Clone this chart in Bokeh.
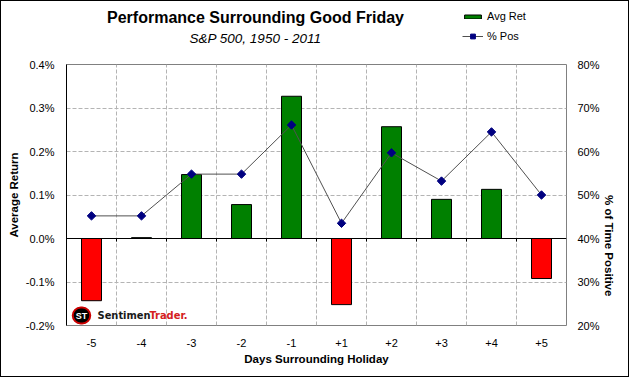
import math
from bokeh.plotting import figure
from bokeh.layouts import column
from bokeh.models import (Range1d, LinearAxis, FixedTicker, PrintfTickFormatter,
                          ColumnDataSource, Span, Label, Legend, LegendItem)
from bokeh.embed import file_html
from bokeh.resources import INLINE

# ---- data ----
days = ["-5", "-4", "-3", "-2", "-1", "+1", "+2", "+3", "+4", "+5"]
avg_ret = [-0.143, 0.002, 0.147, 0.078, 0.327, -0.152, 0.257, 0.090, 0.113, -0.092]  # %
pct_pos = [45.2, 45.2, 54.8, 54.8, 66.1, 43.5, 59.7, 53.2, 64.5, 50.0]              # %
ret_ticks = [-0.2, -0.1, 0.0, 0.1, 0.2, 0.3, 0.4]
pos_ticks = [20, 30, 40, 50, 60, 70, 80]
title_text = "Performance Surrounding Good Friday"
subtitle_text = "S&P 500, 1950 - 2011"
FONT = "Liberation Sans"
GREEN, RED, NAVY, LINE = "#008000", "#FF0000", "#000080", "#505050"

x = list(range(len(days)))
colors = [GREEN if v >= 0 else RED for v in avg_ret]
src = ColumnDataSource(dict(x=x, day=days, ret=avg_ret, pos=pct_pos, color=colors))

# ================= main chart =================
p = figure(width=627, height=319,
           x_range=Range1d(-0.5, len(days) - 0.5),
           y_range=Range1d(ret_ticks[0], ret_ticks[-1]),
           output_backend="svg", toolbar_location=None,
           min_border_left=65, min_border_right=62, min_border_top=7, min_border_bottom=51,
           background_fill_color="white", border_fill_color="white",
           outline_line_color="#808080")
p.extra_y_ranges = {"pos": Range1d(pos_ticks[0], pos_ticks[-1])}

def style_axis(ax, label, standoff, label_standoff):
    ax.axis_label = label
    ax.major_tick_line_color = None
    ax.minor_tick_line_color = None
    ax.major_tick_out = 0
    ax.major_tick_in = 0
    ax.minor_tick_out = 0
    ax.minor_tick_in = 0
    ax.major_label_standoff = standoff
    ax.axis_label_standoff = label_standoff
    ax.major_label_text_font = FONT
    ax.major_label_text_font_size = "11px"
    ax.major_label_text_color = "black"
    ax.axis_label_text_font = FONT
    ax.axis_label_text_font_size = "11.5px"
    ax.axis_label_text_font_style = "bold"
    ax.axis_label_text_color = "black"

# left axis
ya = p.yaxis[0]
ya.ticker = FixedTicker(ticks=ret_ticks)
ya.formatter = PrintfTickFormatter(format="%.1f%%")
style_axis(ya, "Average Return", 12, 3)
ya.axis_line_color = "black"

# right axis
ra = LinearAxis(y_range_name="pos", ticker=FixedTicker(ticks=pos_ticks),
                formatter=PrintfTickFormatter(format="%d%%"))
style_axis(ra, "% of Time Positive", 11, 6)
ra.axis_line_color = None
ra.axis_label_orientation = -math.pi / 2
p.add_layout(ra, "right")

# bottom axis
xa = p.xaxis[0]
xa.ticker = FixedTicker(ticks=x)
xa.major_label_overrides = {i: d for i, d in zip(x, days)}
style_axis(xa, "Days Surrounding Holiday", 13, 3)
xa.axis_line_color = None

# grids (vertical lines between categories)
bounds = [i + 0.5 for i in x[:-1]]
p.xgrid.ticker = FixedTicker(ticks=bounds)
p.ygrid.ticker = FixedTicker(ticks=ret_ticks)
for g in (p.xgrid[0], p.ygrid[0]):
    g.grid_line_color = "#b4b4b4"
    g.grid_line_dash = "4 2"
    g.grid_line_width = 1

# bars
bars = p.vbar(x="x", top="ret", bottom=0, width=0.4, fill_color="color",
              line_color="black", line_width=1, source=src)

# zero line and its small ticks
p.add_layout(Span(location=0, dimension="width", line_color="black", line_width=1))
p.segment(x0=bounds, y0=[0] * len(bounds), x1=bounds, y1=[-0.007] * len(bounds),
          line_color="black", line_width=1)

# % positive line
p.line("x", "pos", y_range_name="pos", line_color=LINE, line_width=1, source=src)
p.scatter("x", "pos", y_range_name="pos", marker="square", angle=math.pi / 4, size=6,
          fill_color=NAVY, line_color=NAVY, source=src)

# watermark logo (screen units relative to frame bottom-left)
p.add_layout(Label(x=15, y=10, x_units="screen", y_units="screen", text="ST",
                   text_align="center", text_baseline="middle", text_font=FONT,
                   text_font_size="9px", text_font_style="bold", text_color="white",
                   background_fill_color="black", border_line_color="#cc0000",
                   border_line_width=2, border_radius=9, padding=3))
p.add_layout(Label(x=31, y=10, x_units="screen", y_units="screen", text="Sentimen",
                   text_align="left", text_baseline="middle", text_font="DejaVu Sans Condensed",
                   text_font_size="11px", text_font_style="bold", text_color="#1a1a1a"))
p.add_layout(Label(x=83, y=10, x_units="screen", y_units="screen", text="Trader.",
                   text_align="left", text_baseline="middle", text_font="DejaVu Sans Condensed",
                   text_font_size="11px", text_font_style="bold", text_color="#d42020"))

# ================= header (titles + legend) =================
# In the column, the header's frame is aligned with the main frame (image x 66..566),
# so the header ranges are expressed in picture pixels.
h = figure(width=627, height=56, x_range=Range1d(66, 566), y_range=Range1d(57, 1),
           x_axis_location=None, y_axis_location=None,
           output_backend="svg", toolbar_location=None,
           min_border_left=0, min_border_right=0, min_border_top=0, min_border_bottom=0,
           background_fill_color="white", border_fill_color="white", outline_line_color=None)
h.grid.visible = False
h.extra_y_ranges = {"hide": Range1d(1000, 1001)}
# legend proxies drawn from the same data, mapped outside the header's visible range
hb = h.vbar(x="x", top="ret", bottom=0, width=0.4, fill_color=GREEN, line_color="black",
            y_range_name="hide", source=src)
hl = h.line("x", "pos", y_range_name="hide", line_color=LINE, line_width=1, source=src)
hm = h.scatter("x", "pos", y_range_name="hide", marker="square", angle=math.pi / 4, size=6,
               fill_color=NAVY, line_color=NAVY, source=src)

common = dict(border_line_color=None, background_fill_alpha=0, padding=0, margin=0,
              label_text_font=FONT, label_text_font_size="11px", label_standoff=4,
              glyph_width=21, spacing=0, label_text_color="black")
leg1 = Legend(items=[LegendItem(label="Avg Ret", renderers=[hb])],
              location=(396, 35), glyph_height=5, **common)
leg2 = Legend(items=[LegendItem(label="% Pos", renderers=[hl, hm])],
              location=(396, 15), glyph_height=12, **common)
h.add_layout(leg1)
h.add_layout(leg2)

h.add_layout(Label(x=255, y=17, text=title_text,
                   text_align="center", text_baseline="middle", text_font=FONT,
                   text_font_size="16px", text_font_style="bold", text_color="black"))
h.add_layout(Label(x=255, y=38, text=subtitle_text,
                   text_align="center", text_baseline="middle", text_font=FONT,
                   text_font_size="13.5px", text_font_style="italic", text_color="black"))

lay = column(h, p, spacing=0)
lay.styles = {"border": "1px solid black"}

open("out.html", "w").write(file_html(lay, INLINE))
